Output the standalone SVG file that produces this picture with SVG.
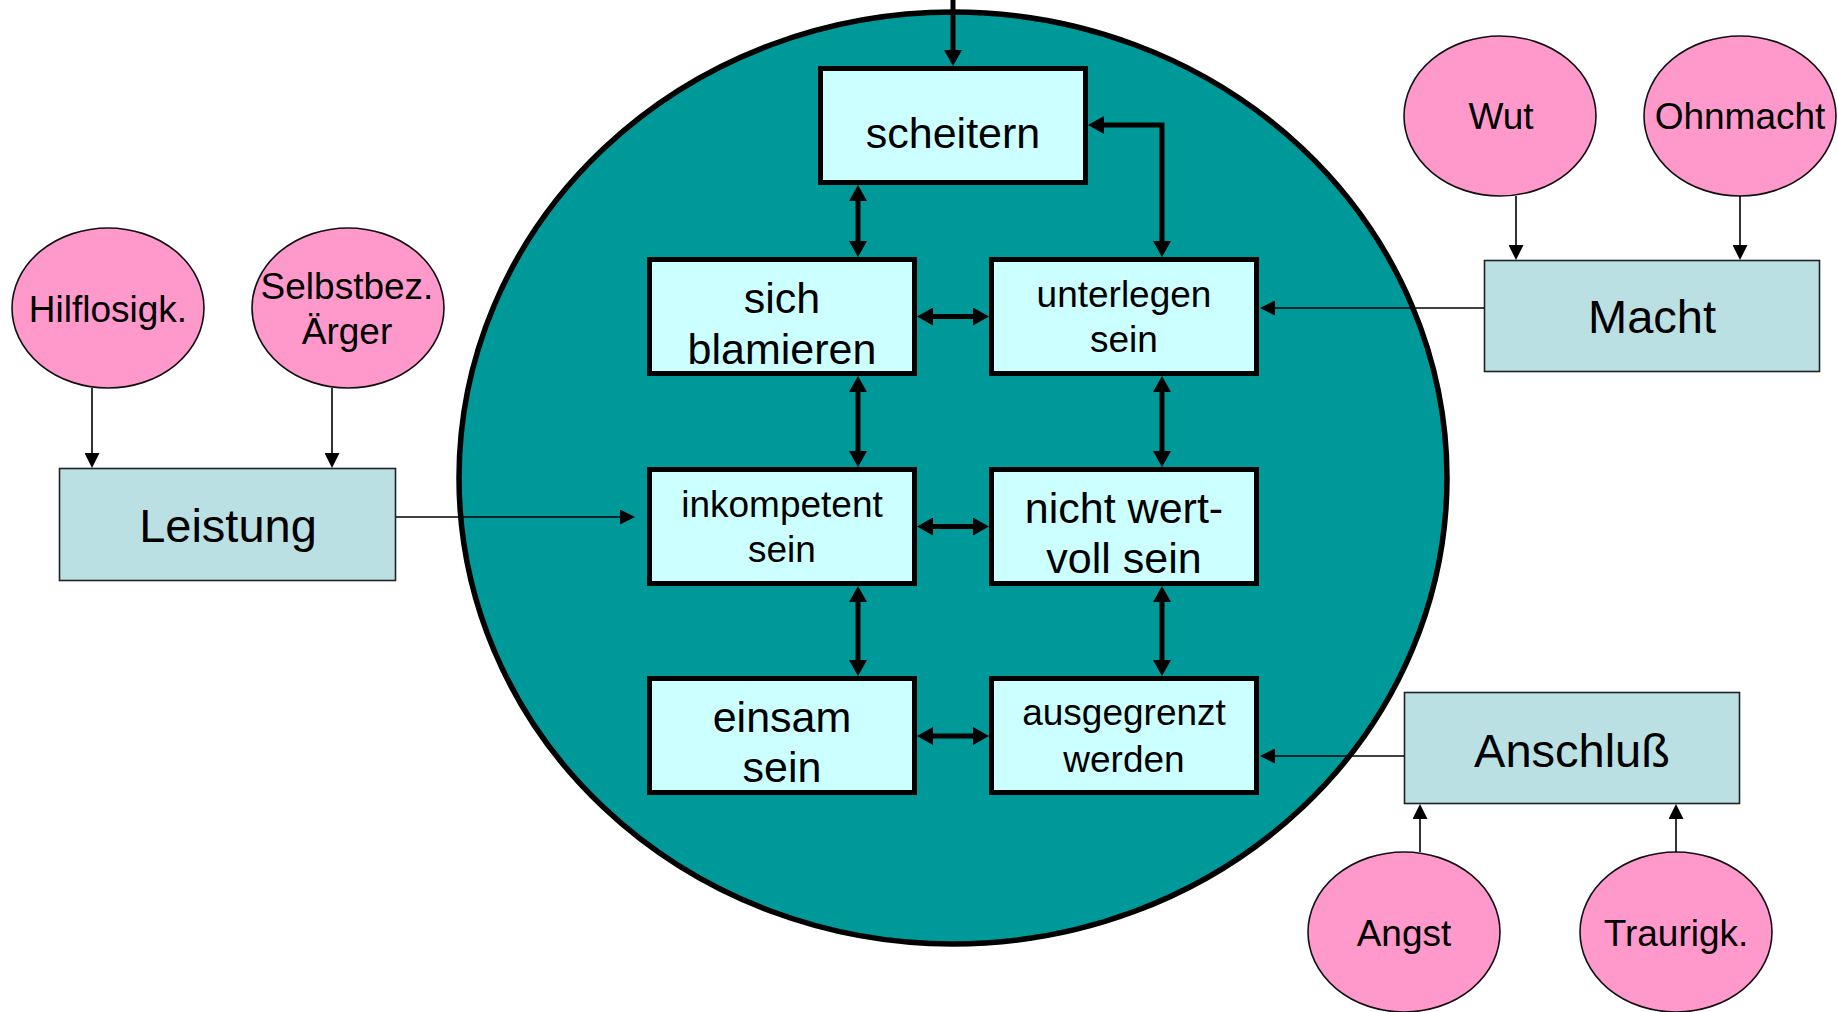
<svg xmlns="http://www.w3.org/2000/svg" width="1838" height="1012" viewBox="0 0 1838 1012">
  <style>
    .core { fill: #ccffff; stroke: #000; stroke-width: 5; }
    .motive { fill: #bbe0e3; stroke: #222; stroke-width: 1.6; }
    .emotion { fill: #ff99cc; stroke: #111; stroke-width: 1.6; }
    text { font-family: "Liberation Sans", Arial, sans-serif; fill: #000; text-anchor: middle; }
    .big { font-size: 43px; }
    .small { font-size: 37px; }
    .label { font-size: 37px; }
    .title { font-size: 47px; }
    .thick { fill: none; stroke: #000; stroke-width: 5; }
    .thin { fill: none; stroke: #000; stroke-width: 1.6; }
  </style>
  <defs>
    <marker id="headThick" markerUnits="userSpaceOnUse" markerWidth="16" markerHeight="18" viewBox="0 0 16 18" refX="1" refY="9" orient="auto-start-reverse">
      <path d="M0,0 L16,9 L0,18 z" fill="#000"/>
    </marker>
    <marker id="headThin" markerUnits="userSpaceOnUse" markerWidth="15" markerHeight="15" viewBox="0 0 15 15" refX="1" refY="7.5" orient="auto-start-reverse">
      <path d="M0,0 L15,7.5 L0,15 z" fill="#000"/>
    </marker>
  </defs>

  <!-- central self-esteem area -->
  <ellipse id="core-area" cx="953" cy="478" rx="494" ry="466" fill="#009999" stroke="#000" stroke-width="5.5"/>

  <g id="scheitern">
    <rect class="core" x="820.5" y="68.5" width="265" height="114"/>
    <text class="big" x="953" y="148">scheitern</text>
  </g>
  <g id="sich-blamieren">
    <rect class="core" x="649.5" y="259.5" width="265" height="114"/>
    <text class="big" x="782" y="313">sich</text>
    <text class="big" x="782" y="364">blamieren</text>
  </g>
  <g id="unterlegen-sein">
    <rect class="core" x="991.5" y="259.5" width="265" height="114"/>
    <text class="small" x="1124" y="307">unterlegen</text>
    <text class="small" x="1124" y="352">sein</text>
  </g>
  <g id="inkompetent-sein">
    <rect class="core" x="649.5" y="469.5" width="265" height="114"/>
    <text class="small" x="782" y="517">inkompetent</text>
    <text class="small" x="782" y="562">sein</text>
  </g>
  <g id="nicht-wertvoll-sein">
    <rect class="core" x="991.5" y="469.5" width="265" height="114"/>
    <text class="big" x="1124" y="523">nicht wert-</text>
    <text class="big" x="1124" y="573">voll sein</text>
  </g>
  <g id="einsam-sein">
    <rect class="core" x="649.5" y="678.5" width="265" height="114"/>
    <text class="big" x="782" y="732">einsam</text>
    <text class="big" x="782" y="782">sein</text>
  </g>
  <g id="ausgegrenzt-werden">
    <rect class="core" x="991.5" y="678.5" width="265" height="114"/>
    <text class="small" x="1124" y="725">ausgegrenzt</text>
    <text class="small" x="1124" y="772">werden</text>
  </g>

  <!-- motives -->
  <g id="leistung">
    <rect class="motive" x="59.5" y="468.5" width="336" height="112"/>
    <text class="title" x="228" y="542">Leistung</text>
  </g>
  <g id="macht">
    <rect class="motive" x="1484.5" y="260.5" width="335" height="111"/>
    <text class="title" x="1652" y="333">Macht</text>
  </g>
  <g id="anschluss">
    <rect class="motive" x="1404.5" y="692.5" width="335" height="111"/>
    <text class="title" x="1572" y="767">Anschluß</text>
  </g>

  <!-- emotions -->
  <g id="hilflosigkeit">
    <ellipse class="emotion" cx="108" cy="308" rx="96" ry="80"/>
    <text class="label" x="108" y="322">Hilflosigk.</text>
  </g>
  <g id="selbstbez-aerger">
    <ellipse class="emotion" cx="348" cy="308" rx="96" ry="80"/>
    <text class="label" x="347" y="299">Selbstbez.</text>
    <text class="label" x="347" y="344">Ärger</text>
  </g>
  <g id="wut">
    <ellipse class="emotion" cx="1500" cy="116" rx="96" ry="80"/>
    <text class="label" x="1501" y="129">Wut</text>
  </g>
  <g id="ohnmacht">
    <ellipse class="emotion" cx="1740" cy="116" rx="96" ry="80"/>
    <text class="label" x="1740" y="129">Ohnmacht</text>
  </g>
  <g id="angst">
    <ellipse class="emotion" cx="1404" cy="932" rx="96" ry="80"/>
    <text class="label" x="1404" y="946">Angst</text>
  </g>
  <g id="traurigkeit">
    <ellipse class="emotion" cx="1676" cy="932" rx="96" ry="80"/>
    <text class="label" x="1676" y="946">Traurigk.</text>
  </g>

  <!-- connectors -->
  <g id="connectors">
    <line class="thick" x1="953" y1="0" x2="953" y2="51" marker-end="url(#headThick)"/>
    <path class="thick" d="M1103,125 L1162,125 L1162,242" marker-start="url(#headThick)" marker-end="url(#headThick)"/>
    <line class="thick" x1="858" y1="200" x2="858" y2="242" marker-start="url(#headThick)" marker-end="url(#headThick)"/>
    <line class="thick" x1="858" y1="391" x2="858" y2="452" marker-start="url(#headThick)" marker-end="url(#headThick)"/>
    <line class="thick" x1="858" y1="601" x2="858" y2="661" marker-start="url(#headThick)" marker-end="url(#headThick)"/>
    <line class="thick" x1="1162" y1="391" x2="1162" y2="452" marker-start="url(#headThick)" marker-end="url(#headThick)"/>
    <line class="thick" x1="1162" y1="601" x2="1162" y2="661" marker-start="url(#headThick)" marker-end="url(#headThick)"/>
    <line class="thick" x1="932" y1="316.5" x2="974" y2="316.5" marker-start="url(#headThick)" marker-end="url(#headThick)"/>
    <line class="thick" x1="932" y1="526.5" x2="974" y2="526.5" marker-start="url(#headThick)" marker-end="url(#headThick)"/>
    <line class="thick" x1="932" y1="736" x2="974" y2="736" marker-start="url(#headThick)" marker-end="url(#headThick)"/>

    <line class="thin" x1="92" y1="388" x2="92" y2="454" marker-end="url(#headThin)"/>
    <line class="thin" x1="332" y1="388" x2="332" y2="454" marker-end="url(#headThin)"/>
    <line class="thin" x1="1516" y1="196" x2="1516" y2="246" marker-end="url(#headThin)"/>
    <line class="thin" x1="1740" y1="196" x2="1740" y2="246" marker-end="url(#headThin)"/>
    <line class="thin" x1="1420" y1="852" x2="1420" y2="818" marker-end="url(#headThin)"/>
    <line class="thin" x1="1676" y1="852" x2="1676" y2="818" marker-end="url(#headThin)"/>
    <line class="thin" x1="396" y1="517" x2="621" y2="517" marker-end="url(#headThin)"/>
    <line class="thin" x1="1484" y1="308" x2="1274" y2="308" marker-end="url(#headThin)"/>
    <line class="thin" x1="1404" y1="756" x2="1274" y2="756" marker-end="url(#headThin)"/>
  </g>
</svg>
